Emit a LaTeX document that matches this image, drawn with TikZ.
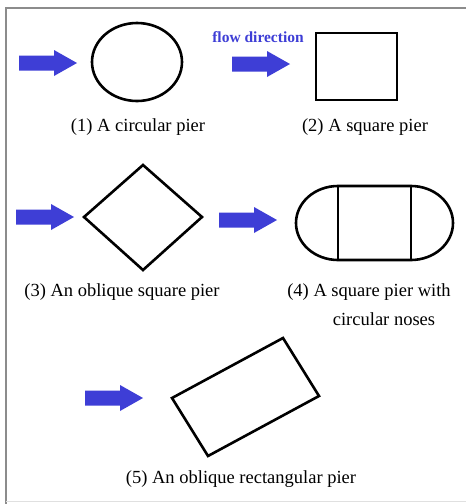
\documentclass[tikz,border=0pt]{standalone}
\usepackage{fontspec}
\setmainfont{Liberation Serif}
\definecolor{flowblue}{RGB}{62,62,214}
\tikzset{
  pier/.style={draw=black, line width=2.6pt, line join=miter},
  lbl/.style={font=\fontsize{18.5}{21}\selectfont, text=black, inner sep=0pt},
  flowarrow/.pic={\fill[flowblue] (0,-7.5) -- (35,-7.5) -- (35,-13) -- (58,0) -- (35,13) -- (35,7.5) -- (0,7.5) -- cycle;}
}
\begin{document}
\begin{tikzpicture}[x=1pt,y=-1pt]
\useasboundingbox (0,0) rectangle (466,504);
\fill[white] (0,0) rectangle (466,504);
% frame
\draw[black!45, line width=1.6pt] (6,504) -- (6,8) -- (466,8);
\draw[black!12, line width=0.8pt] (6,501) -- (466,501);

% (1) circular pier
\pic at (19,63) {flowarrow};
\draw[pier] (137,62) ellipse [x radius=45pt, y radius=39pt];
\node[lbl] (l1) at (138,127) {(1) A circular pier};

% (2) square pier
\node[font=\bfseries\fontsize{15.5}{17}\selectfont, text=flowblue, inner sep=0pt] (fd) at (258,37) {flow direction};
\pic at (232,64) {flowarrow};
\draw[pier] (316,33) rectangle (397,100);
\node[lbl] (l2) at (365,127) {(2) A square pier};

% (3) oblique square pier
\pic at (16,217) {flowarrow};
\draw[pier] (84,217) -- (143,165) -- (202,217) -- (143,270) -- cycle;
\node[lbl] (l3) at (122,292) {(3) An oblique square pier};

% (4) square pier with circular noses
\pic at (219,220) {flowarrow};
\draw[pier] (338,186) -- (411,186) arc[start angle=90, end angle=-90, x radius=42pt, y radius=37pt]
  -- (338,260) arc[start angle=270, end angle=90, x radius=42pt, y radius=37pt] -- cycle;
\draw[pier] (338,186) -- (338,260);
\draw[pier] (411,186) -- (411,260);
\node[lbl] (l4a) at (369,292) {(4) A square pier with};
\node[lbl] (l4b) at (384,319) {circular noses};

% (5) oblique rectangular pier
\pic at (85,398) {flowarrow};
\draw[pier] (172,398) -- (283,338) -- (319,396) -- (208,456) -- cycle;
\node[lbl] (l5) at (241,479) {(5) An oblique rectangular pier};
\end{tikzpicture}
\end{document}
